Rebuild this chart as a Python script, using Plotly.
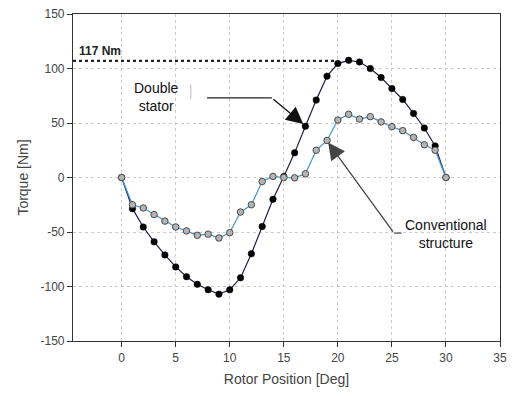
import plotly.graph_objects as go

rotor_pos = list(range(0, 31))
double_stator = [0, -28.6, -45.4, -59, -71, -82, -91, -98, -103, -107, -103, -92, -70, -45, -20, 1,
                 22.6, 47, 71, 93, 104.5, 107.5, 106, 100, 91.7, 81.6, 71.6, 58.8, 45.4, 29, 0]
conventional = [0, -25, -28, -34, -40, -45.4, -49, -53, -52, -55.5, -50.6, -31.7, -25, -3.7, 1, 0,
                -0.3, 3.4, 25, 34, 52.7, 58, 53.6, 55.8, 51, 46.6, 43, 36.8, 30, 25, 0]
x_ticks = [0, 5, 10, 15, 20, 25, 30, 35]
y_ticks = [-150, -100, -50, 0, 50, 100, 150]
y_tick_text = ["-150", "-100", "-50", "0", "50", "100", "150"]
peak_label = "117 Nm"

fig = go.Figure()
fig.add_trace(go.Scatter(
    x=rotor_pos, y=double_stator, mode="lines+markers", name="Double stator",
    line=dict(color="#1e1f4a", width=1.2),
    marker=dict(symbol="circle", size=6.5, color="#000000", line=dict(color="#000000", width=0.5)),
))
fig.add_trace(go.Scatter(
    x=rotor_pos, y=conventional, mode="lines+markers", name="Conventional structure",
    line=dict(color="#3f94d6", width=1.2),
    marker=dict(symbol="circle", size=6.5, color="#b4b4b4", line=dict(color="#4a4a4a", width=1)),
))

peak = max(double_stator)
peak_x = rotor_pos[double_stator.index(peak)]
fig.add_shape(type="line", xref="x", yref="y", x0=-4.5, x1=peak_x - 1, y0=peak - 0.5, y1=peak - 0.5,
              line=dict(color="#222222", width=2.2, dash="dot"), layer="above")
fig.add_annotation(x=-4.1, y=peak + 9, xref="x", yref="y", text="<b>" + peak_label + "</b>",
                   showarrow=False, xanchor="left", font=dict(size=12, color="#222222", family="Liberation Sans"))

# Double stator callout
fig.add_shape(type="path", xref="x", yref="y", path="M 7.9 73 L 13.9 73",
              line=dict(color="#222222", width=1.3))
fig.add_annotation(x=16.8, y=49, ax=13.9, ay=73, xref="x", yref="y", axref="x", ayref="y",
                   text="", showarrow=True, arrowhead=2, arrowsize=2.6, arrowwidth=1.3, arrowcolor="#111111")
fig.add_shape(type="line", xref="x", yref="y", x0=6.4, x1=6.4, y0=72, y1=85,
              line=dict(color="#bbbbbb", width=1))
fig.add_annotation(x=3.2, y=74, xref="x", yref="y", text="Double<br>stator", showarrow=False,
                   font=dict(size=14, color="#111111", family="Liberation Sans Narrow, Liberation Sans"),
                   align="center")

# Conventional callout
fig.add_shape(type="path", xref="x", yref="y", path="M 25.9 -51 L 25.2 -51",
              line=dict(color="#555555", width=1.3))
fig.add_annotation(x=19.1, y=32, ax=25.2, ay=-51, xref="x", yref="y", axref="x", ayref="y",
                   text="", showarrow=True, arrowhead=2, arrowsize=2.6, arrowwidth=1.3, arrowcolor="#444444")
fig.add_annotation(x=30.0, y=-52, xref="x", yref="y", text="Conventional<br>structure", showarrow=False,
                   font=dict(size=14, color="#111111", family="Liberation Sans Narrow, Liberation Sans"),
                   align="center")

axis_common = dict(
    showline=True, linecolor="#333333", linewidth=1.2, mirror=True,
    ticks="outside", ticklen=5, tickcolor="#333333",
    showgrid=True, gridcolor="#cccccc", griddash="dot", gridwidth=1,
    zeroline=False, tickfont=dict(size=12, color="#444444", family="Liberation Sans"),
)
fig.update_xaxes(range=[-4.5, 35], tickvals=x_ticks,
                 title=dict(text="Rotor Position [Deg]", font=dict(size=14, color="#444444", family="Liberation Sans"), standoff=10),
                 **axis_common)
fig.update_yaxes(range=[-150, 150], tickvals=y_ticks, ticktext=y_tick_text,
                 title=dict(text="Torque [Nm]", font=dict(size=14, color="#444444", family="Liberation Sans"), standoff=8),
                 **axis_common)
fig.update_layout(
    width=514, height=396, margin=dict(l=73, r=7, t=13, b=55),
    paper_bgcolor="white", plot_bgcolor="white", showlegend=False,
)
fig.write_html("out.html")
